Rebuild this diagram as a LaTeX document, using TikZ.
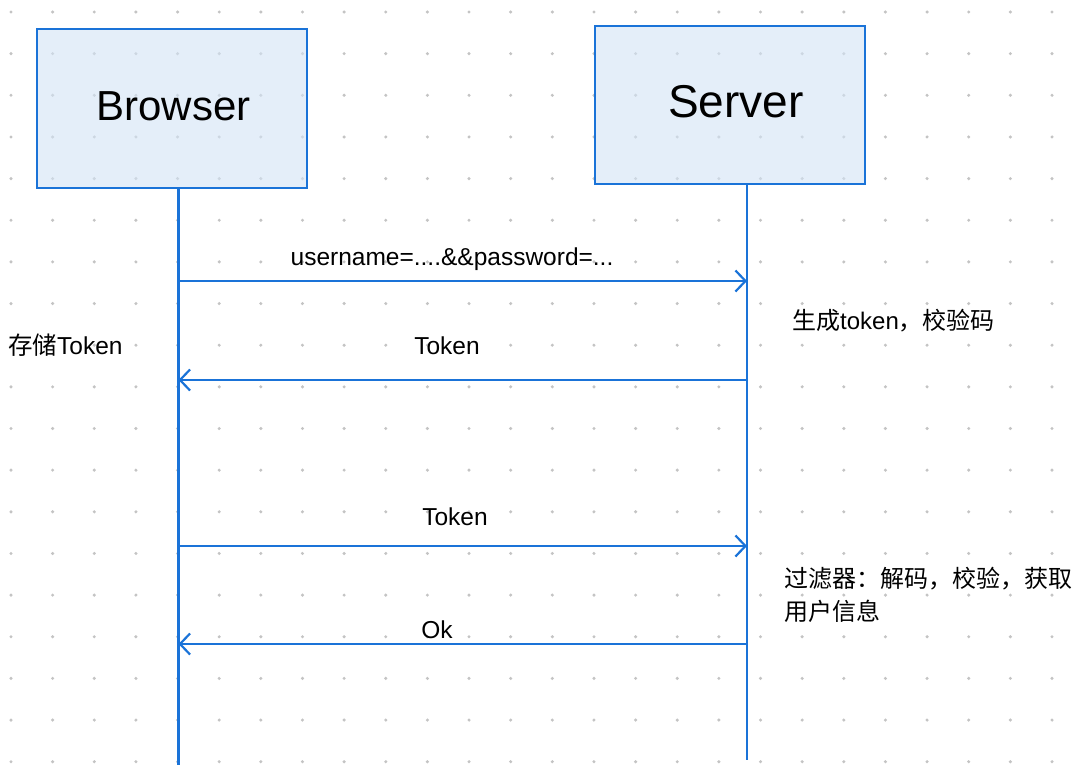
\documentclass[tikz,border=0pt]{standalone}
\usepackage{fontspec}
\setmainfont{Liberation Sans}
\newfontfamily\cjk{Noto Sans CJK SC}
\usetikzlibrary{arrows.meta}
\definecolor{lineblue}{HTML}{1A73D8}
\definecolor{boxfill}{HTML}{D2E3F5}
\definecolor{dotgrey}{HTML}{C4C4C4}
\tikzset{
  actor/.style={draw=lineblue, line width=2pt, fill=boxfill, fill opacity=0.6, text opacity=1, draw opacity=1,
    minimum width=270pt, minimum height=159pt, inner sep=0pt},
  lifeline/.style={draw=lineblue, line width=2.2pt},
  msg/.style={draw=lineblue, line width=2.2pt, -{Straight Barb[length=10pt,width=21pt,line width=2.2pt]}},
  lbl/.style={font=\fontsize{24.5}{29}\selectfont, inner sep=0pt, anchor=base},
  note/.style={font=\fontsize{24}{33}\selectfont, inner sep=0pt, anchor=base west, align=left},
}
\begin{document}
\begin{tikzpicture}[x=1pt, y=-1pt]
\useasboundingbox[fill=white] (0,0) rectangle (1080,768);
% dot grid
\foreach \i in {0,...,25}{
  \foreach \j in {0,...,18}{
    \fill[dotgrey] ({11+41.64*\i},{12+41.65*\j}) circle (1.7pt);
  }
}
% actors
\node[actor] (browser) at (172,108.5) {};
\node[actor, minimum height=158pt] (server) at (730,105) {};
\node[font=\fontsize{42}{50}\selectfont, inner sep=0pt] (btext) at ([xshift=1.5pt, yshift=2.5pt]browser.center) {Browser};
\node[font=\fontsize{46}{55}\selectfont, inner sep=0pt] (stext) at ([xshift=6pt, yshift=3pt]server.center) {Server};
% lifelines
\coordinate (bend) at (178.5,765);
\coordinate (send) at (747,760);
\draw[lifeline] (browser.south -| bend) -- (bend);
\draw[lifeline] (server.south -| send) -- (send);
% message end points
\coordinate (b1) at (180,281);   \coordinate (s1) at (747,281);
\coordinate (s2) at (747,380);   \coordinate (b2) at (178.5,380);
\coordinate (b3) at (180,546);   \coordinate (s3) at (747,546);
\coordinate (s4) at (748,644);   \coordinate (b4) at (178.5,644);
\draw[msg] (b1) -- (s1);
\draw[msg] (s2) -- (b2);
\draw[msg] (b3) -- (s3);
\draw[msg] (s4) -- (b4);
% labels
\node[lbl] (l1) at (452,265) {username=....\&\&password=...};
\node[lbl] (l2) at (447,354) {Token};
\node[lbl] (l3) at (455,525) {Token};
\node[lbl] (l4) at (437,638) {Ok};
\node[lbl, anchor=base west] (store) at (8,354) {{\cjk 存储}Token};
\node[note] (gen) at (792,329) {{\cjk 生成}token{\cjk ，校验码}};
\node[note] (filter) at (784,620) {{\cjk 过滤器：解码，校验，获取}\\{\cjk 用户信息}};
\end{tikzpicture}
\end{document}
